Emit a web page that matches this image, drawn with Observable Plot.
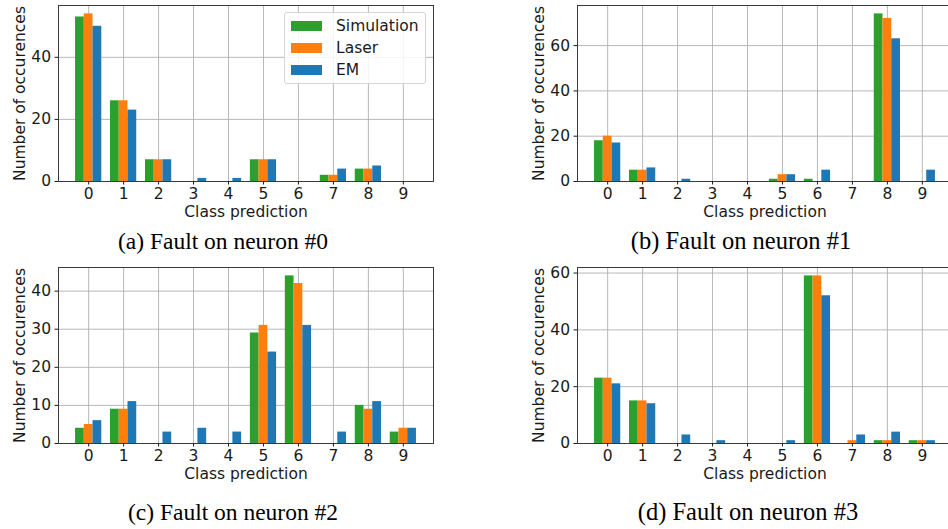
<!DOCTYPE html>
<html>
<head>
<meta charset="utf-8">
<script src="https://cdn.jsdelivr.net/npm/d3@7"></script>
<script src="https://cdn.jsdelivr.net/npm/@observablehq/plot@0.6"></script>
<style>
  body { margin: 0; background: #fff; }
  #root { position: relative; width: 948px; height: 529px; overflow: hidden; background: #fff; }
  .panel { position: absolute; }
  .caption { position: absolute; font-family: "Liberation Serif", "Times New Roman", serif; color: #000; white-space: nowrap; transform: translate(-50%, -50%); }
  .legend { position: absolute; box-sizing: border-box; background: rgba(255,255,255,0.85); border: 1px solid #d6d6d6; border-radius: 3px; font-family: "DejaVu Sans", sans-serif; font-size: 15.5px; color: #1a1a1a; }
  .legend .item { position: absolute; left: 6px; height: 20px; display: flex; align-items: center; }
  .legend .sw { width: 31px; height: 10px; margin-right: 14px; }
</style>
</head>
<body>
<div id="root"></div>
<script>
// ---- data ----
const classes = [0, 1, 2, 3, 4, 5, 6, 7, 8, 9];
const seriesNames = ["Simulation", "Laser", "EM"];
const seriesColors = ["#2ca02c", "#ff7f0e", "#1f77b4"];

// (a) Fault on neuron #0
const simA   = [53, 26, 7, 0, 0, 7, 0, 2, 4, 0];
const laserA = [54, 26, 7, 0, 0, 7, 0, 2, 4, 0];
const emA    = [50, 23, 7, 1, 1, 7, 0, 4, 5, 0];
// (b) Fault on neuron #1
const simB   = [18, 5, 0, 0, 0, 1, 1, 0, 74, 0];
const laserB = [20, 5, 0, 0, 0, 3, 0, 0, 72, 0];
const emB    = [17, 6, 1, 0, 0, 3, 5, 0, 63, 5];
// (c) Fault on neuron #2
const simC   = [4, 9, 0, 0, 0, 29, 44, 0, 10, 3];
const laserC = [5, 9, 0, 0, 0, 31, 42, 0, 9, 4];
const emC    = [6, 11, 3, 4, 3, 24, 31, 3, 11, 4];
// (d) Fault on neuron #3
const simD   = [23, 15, 0, 0, 0, 0, 59, 0, 1, 1];
const laserD = [23, 15, 0, 0, 0, 0, 59, 1, 1, 1];
const emD    = [21, 14, 3, 1, 0, 1, 52, 3, 4, 1];

const yTicksA = [0, 20, 40];
const yTicksB = [0, 20, 40, 60];
const yTicksC = [0, 10, 20, 30, 40];
const yTicksD = [0, 20, 40, 60];

const captions = ["(a) Fault on neuron #0", "(b) Fault on neuron #1", "(c) Fault on neuron #2", "(d) Fault on neuron #3"];
const xLabel = "Class prediction";
const yLabel = "Number of occurences";

// ---- layout ----
const root = document.getElementById("root");
const barW = 0.25;
const xMin = classes[0] - 1.5 * barW, xMax = classes[classes.length - 1] + 1.5 * barW;
const xPad = (xMax - xMin) * 0.05;
const xDomain = [xMin - xPad, xMax + xPad];

function makePanel(seriesArrays, yTicks, pos) {
  const rows = [];
  seriesArrays.forEach((arr, i) => {
    arr.forEach((v, j) => {
      if (v > 0) rows.push({cls: classes[j], series: seriesNames[i], idx: i, value: v});
    });
  });
  const ymax = d3.max(seriesArrays.flat()) * 1.05;
  const chart = Plot.plot({
    width: pos.w, height: 230,
    marginLeft: pos.ml, marginRight: pos.mr, marginTop: 5, marginBottom: 49,
    style: {fontFamily: "DejaVu Sans, sans-serif", fontSize: "15.5px", color: "#1a1a1a", background: "transparent", overflow: "visible"},
    x: {domain: xDomain},
    y: {domain: [0, ymax]},
    color: {domain: seriesNames, range: seriesColors},
    marks: [
      Plot.gridX(classes, {stroke: "#b0b0b0", strokeOpacity: 1, strokeWidth: 0.9}),
      Plot.gridY(yTicks, {stroke: "#b0b0b0", strokeOpacity: 1, strokeWidth: 0.9}),
      Plot.rectY(rows, {
        x1: d => d.cls + (d.idx - 1) * barW - barW / 2,
        x2: d => d.cls + (d.idx - 1) * barW + barW / 2,
        y1: 0, y2: "value", fill: "series"
      }),
      Plot.frame({stroke: "#3a3a3a", strokeWidth: 1}),
      Plot.axisX(classes, {tickSize: 3.5, tickPadding: 3, tickFormat: d => String(d), label: xLabel, labelAnchor: "center", labelArrow: "none", labelOffset: 35}),
      Plot.axisY(yTicks, {tickSize: 3.5, tickPadding: 4, label: yLabel, labelAnchor: "center", labelArrow: "none", labelOffset: 45})
    ]
  });
  chart.classList.add("panel");
  chart.style.left = pos.left + "px";
  chart.style.top = pos.top + "px";
  root.appendChild(chart);
}

makePanel([simA, laserA, emA], yTicksA, {left: 0, top: 0, w: 440, ml: 58, mr: 7});
makePanel([simB, laserB, emB], yTicksB, {left: 480, top: 0, w: 475, ml: 97, mr: 3});
makePanel([simC, laserC, emC], yTicksC, {left: 0, top: 262, w: 440, ml: 58, mr: 7});
makePanel([simD, laserD, emD], yTicksD, {left: 480, top: 262, w: 475, ml: 97, mr: 3});

// captions
const capPos = [[223, 241, 23.5], [741, 241, 24.5], [233, 512, 23.5], [748, 512, 24.5]];
captions.forEach((t, i) => {
  const d = document.createElement("div");
  d.className = "caption";
  d.textContent = t;
  d.style.left = capPos[i][0] + "px";
  d.style.top = capPos[i][1] + "px";
  d.style.fontSize = capPos[i][2] + "px";
  root.appendChild(d);
});

// legend (panel a)
const lg = document.createElement("div");
lg.className = "legend";
lg.style.left = "284px"; lg.style.top = "12px"; lg.style.width = "142px"; lg.style.height = "72px";
seriesNames.forEach((name, i) => {
  const it = document.createElement("div");
  it.className = "item";
  it.style.top = (3 + i * 22) + "px";
  const sw = document.createElement("span");
  sw.className = "sw";
  sw.style.background = seriesColors[i];
  const tx = document.createElement("span");
  tx.textContent = name;
  it.appendChild(sw); it.appendChild(tx);
  lg.appendChild(it);
});
root.appendChild(lg);
</script>
</body>
</html>
